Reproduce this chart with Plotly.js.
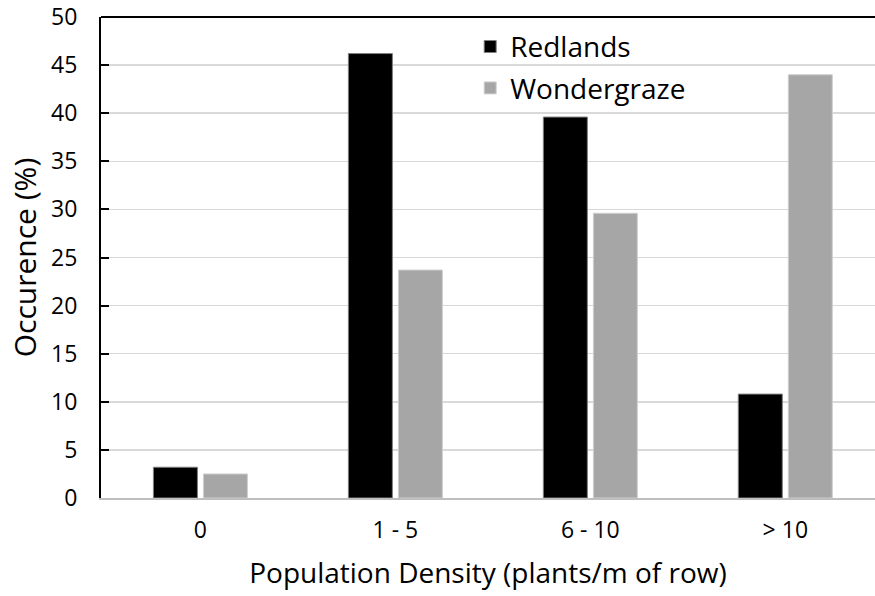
<!DOCTYPE html>
<html>
<head>
<meta charset="utf-8">
<script src="https://cdn.plot.ly/plotly-3.0.1.min.js"></script>
<style>html,body{margin:0;padding:0;background:#fff;}#chart{width:875px;height:596px;}</style>
</head>
<body>
<div id="chart"></div>
<script>
const categories = ["0", "1 - 5", "6 - 10", "> 10"];
const redlands = [3.2, 46.2, 39.6, 10.8];
const wondergraze = [2.5, 23.7, 29.6, 44.0];
const yTicks = [0, 5, 10, 15, 20, 25, 30, 35, 40, 45, 50];

const font = "Open Sans, sans-serif";

const traces = [
  {type: "bar", name: "Redlands", x: categories, y: redlands, legendgroup: "a",
   marker: {color: "#000000", line: {color: "#7f7f7f", width: 1}}},
  {type: "bar", name: "Wondergraze", x: categories, y: wondergraze, legendgroup: "b",
   marker: {color: "#a6a6a6", line: {color: "#d0d0d0", width: 1}}}
];

const layout = {
  width: 875, height: 596,
  margin: {l: 101, r: 0, t: 17, b: 98},
  paper_bgcolor: "#fff", plot_bgcolor: "#fff",
  font: {family: font, color: "#000"},
  barmode: "group", bargap: 0.487, bargroupgap: 0.12,
  showlegend: true,
  legend: {x: 0.477, y: 0.99, xanchor: "left", yanchor: "top", bgcolor: "rgba(0,0,0,0)",
           font: {family: font, size: 28, color: "#000"}, tracegroupgap: 2, itemwidth: 30},
  xaxis: {
    type: "category", range: [-0.51, 3.46],
    showline: true, linecolor: "#bfbfbf", linewidth: 2,
    showgrid: false, ticks: "", ticklabelstandoff: 10,
    tickfont: {family: font, size: 23, color: "#000"},
    title: {text: "Population Density (plants/m of row)", font: {family: font, size: 28, color: "#000"}, standoff: 20},
    fixedrange: true
  },
  yaxis: {
    range: [0, 50], tickvals: yTicks, ticktext: yTicks.map(String),
    showline: true, linecolor: "#000", linewidth: 2,
    ticks: "inside", ticklen: 8, tickwidth: 2, tickcolor: "#000",
    showgrid: true, gridcolor: "#d9d9d9", gridwidth: 1.5,
    zeroline: false, ticklabelstandoff: 17, ticklabeloverflow: "allow",
    tickfont: {family: font, size: 23, color: "#000"},
    title: {text: "Occurence (%)", font: {family: font, size: 30, color: "#000"}, standoff: 6},
    fixedrange: true
  },
  shapes: [
    {type: "line", xref: "paper", yref: "paper", x0: 0, x1: 1, y0: 1, y1: 1,
     line: {color: "#000", width: 2}}
  ]
};

Plotly.newPlot("chart", traces, layout, {displayModeBar: false, staticPlot: true});
</script>
</body>
</html>
